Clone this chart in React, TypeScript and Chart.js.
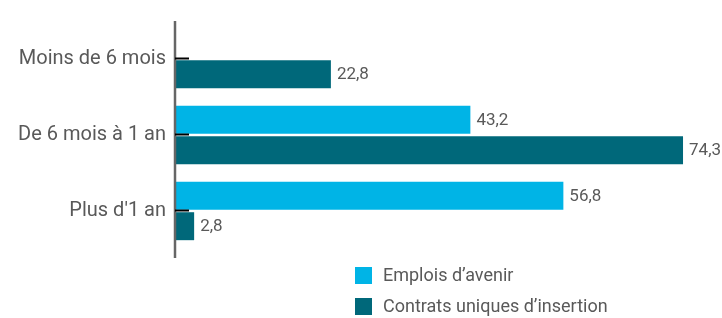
import React, { useEffect, useRef } from "react";
import { Chart, registerables } from "chart.js";

Chart.register(...registerables);

const categories = ["Moins de 6 mois", "De 6 mois à 1 an", "Plus d'1 an"];
const seriesNames = ["Emplois d’avenir", "Contrats uniques d’insertion"];
const emploisAvenir: (number | null)[] = [null, 43.2, 56.8];
const contratsUniques: (number | null)[] = [22.8, 74.3, 2.8];
const seriesColors = ["#00b4e6", "#00687a"];
const xMax = 80;

const FONT = "Roboto";
const TEXT_COLOR = "#595959";

const decorPlugin = {
  id: "decor",
  afterDatasetsDraw(chart: any) {
    const { ctx, chartArea, scales } = chart;
    const y = scales.y;
    ctx.save();
    // axis line
    ctx.strokeStyle = "#666666";
    ctx.lineWidth = 2.5;
    ctx.beginPath();
    ctx.moveTo(chartArea.left, chartArea.top);
    ctx.lineTo(chartArea.left, chartArea.bottom + 9);
    ctx.stroke();
    // tick marks (inside)
    ctx.strokeStyle = "#000000";
    ctx.lineWidth = 2;
    categories.forEach((_, i) => {
      const py = y.getPixelForValue(i) - 0.5;
      ctx.beginPath();
      ctx.moveTo(chartArea.left, py);
      ctx.lineTo(chartArea.left + 14, py);
      ctx.stroke();
    });
    // value labels
    ctx.fillStyle = TEXT_COLOR;
    ctx.font = `17px ${FONT}`;
    ctx.textBaseline = "middle";
    ctx.textAlign = "left";
    chart.data.datasets.forEach((ds: any, di: number) => {
      const meta = chart.getDatasetMeta(di);
      meta.data.forEach((el: any, i: number) => {
        const v = ds.data[i];
        if (v == null) return;
        ctx.fillText(v.toFixed(1).replace(".", ","), el.x + 6, el.y + 1);
      });
    });
    ctx.restore();
  },
  afterDraw(chart: any) {
    const { ctx, chartArea } = chart;
    ctx.save();
    const x0 = 355;
    let yy = chartArea.bottom + 18;
    ctx.font = `18px ${FONT}`;
    ctx.textBaseline = "middle";
    ctx.textAlign = "left";
    chart.data.datasets.forEach((ds: any) => {
      ctx.fillStyle = ds.backgroundColor;
      ctx.fillRect(x0, yy, 17, 17);
      ctx.fillStyle = TEXT_COLOR;
      ctx.fillText(ds.label, x0 + 28, yy + 9);
      yy += 31;
    });
    ctx.restore();
  },
};

export default function App() {
  const ref = useRef<HTMLCanvasElement | null>(null);
  useEffect(() => {
    if (!ref.current) return;
    const chart = new Chart(ref.current, {
      type: "bar",
      data: {
        labels: categories,
        datasets: [
          {
            label: seriesNames[0],
            data: emploisAvenir,
            backgroundColor: seriesColors[0],
            categoryPercentage: 0.8,
            barPercentage: 0.92,
          },
          {
            label: seriesNames[1],
            data: contratsUniques,
            backgroundColor: seriesColors[1],
            categoryPercentage: 0.8,
            barPercentage: 0.92,
          },
        ],
      },
      options: {
        indexAxis: "y",
        responsive: false,
        maintainAspectRatio: false,
        animation: false,
        layout: { padding: { top: 15, bottom: 69, left: 0, right: 0 } },
        plugins: {
          legend: { display: false },
          tooltip: { enabled: false },
        },
        scales: {
          x: { display: false, min: 0, max: xMax },
          y: {
            grid: { display: false, drawTicks: false },
            border: { display: false },
            ticks: {
              padding: 9,
              color: TEXT_COLOR,
              font: { family: FONT, size: 20 },
            },
            afterFit: (scale: any) => {
              scale.width = 175;
            },
          },
        },
      },
      plugins: [decorPlugin],
    } as any);
    return () => chart.destroy();
  }, []);
  return (
    <div style={{ position: "absolute", left: 0, top: 0, width: 722, height: 318, background: "#fff" }}>
      <canvas ref={ref} width={722} height={318} />
    </div>
  );
}
